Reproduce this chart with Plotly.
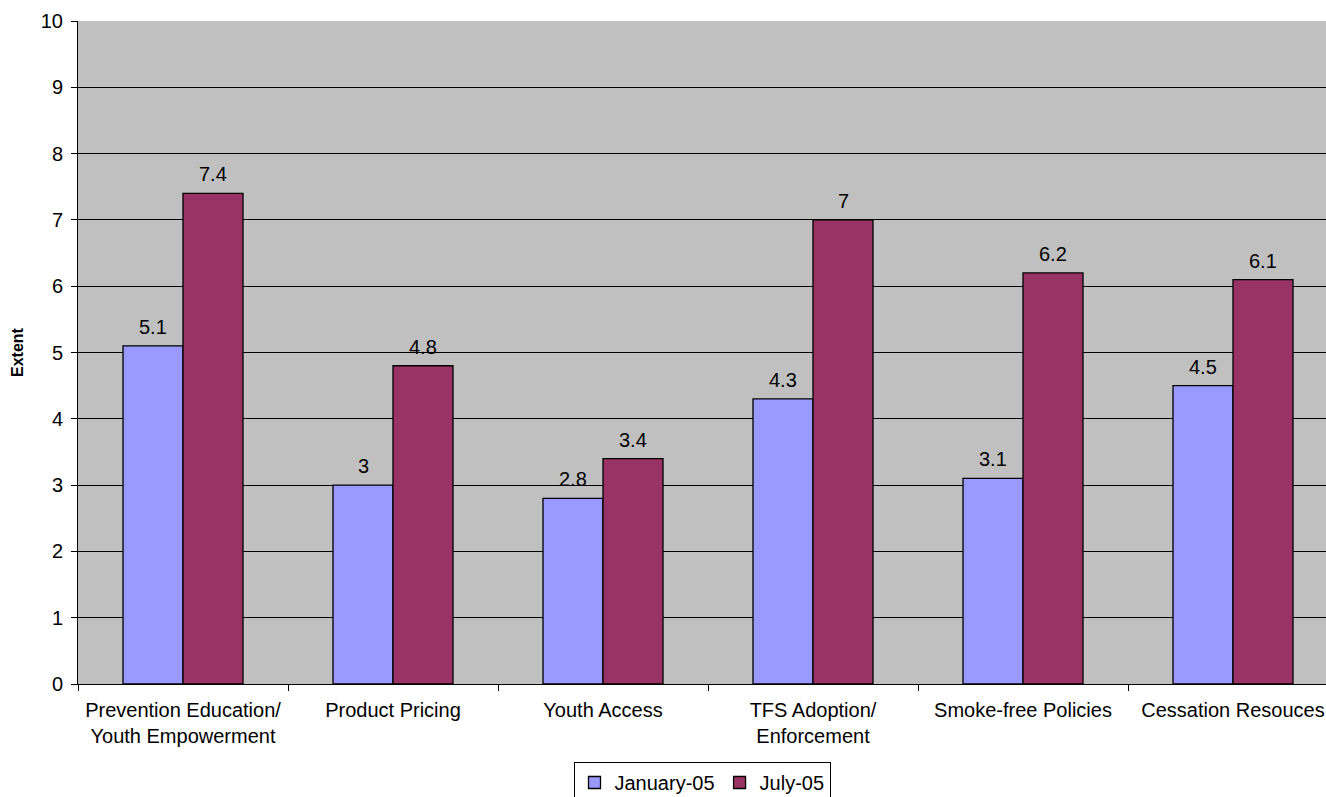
import plotly.graph_objects as go

categories = [
    "Prevention Education/<br>Youth Empowerment",
    "Product Pricing",
    "Youth Access",
    "TFS Adoption/<br>Enforcement",
    "Smoke-free Policies",
    "Cessation Resouces",
]
january_05 = [5.1, 3, 2.8, 4.3, 3.1, 4.5]
july_05 = [7.4, 4.8, 3.4, 7.0, 6.2, 6.1]
y_ticks = list(range(0, 11))

FONT = "Arial, Liberation Sans, sans-serif"
BAR_GAP = 0.4286
series = [("January-05", january_05, "#9999FF"), ("July-05", july_05, "#993366")]

fig = go.Figure()
for name, vals, color in series:
    fig.add_trace(go.Bar(
        name=name, x=categories, y=vals,
        marker=dict(color=color, line=dict(color="black", width=1.3)),
    ))

# value labels centred above each bar of the group
bar_w = (1 - BAR_GAP) / len(series)
for s, (name, vals, color) in enumerate(series):
    offset = (s - (len(series) - 1) / 2) * bar_w
    for i, v in enumerate(vals):
        fig.add_annotation(
            x=i + offset, y=v, xref="x", yref="y",
            text=f"{v:g}", showarrow=False, yanchor="bottom", yshift=6,
            font=dict(family=FONT, size=20, color="black"),
        )

n = len(categories)
fig.update_layout(
    width=1326, height=797,
    margin=dict(l=78, r=0, t=21, b=113),
    paper_bgcolor="white", plot_bgcolor="#C0C0C0",
    barmode="group", bargap=BAR_GAP, bargroupgap=0,
    font=dict(family=FONT, size=20, color="black"),
    showlegend=True,
    legend=dict(
        orientation="h", x=0.5, xanchor="center",
        yref="container", y=(797 - 762) / 797, yanchor="top",
        bordercolor="black", borderwidth=1, bgcolor="white",
        font=dict(family=FONT, size=20), itemwidth=30, tracegroupgap=0,
    ),
    xaxis=dict(
        type="category", range=[-0.5, n - 0.5 - 12 / 210], automargin=False,
        tickson="boundaries", ticks="outside", ticklen=6, tickcolor="black",
        ticklabelstandoff=8,
        showline=True, linecolor="black", linewidth=1,
        showgrid=False, tickfont=dict(size=20),
    ),
    yaxis=dict(
        range=[0, 10], tickvals=y_ticks, ticks="outside", ticklen=6,
        tickcolor="black", showline=True, linecolor="black", linewidth=1,
        showgrid=True, gridcolor="black", gridwidth=1, zeroline=False,
        automargin=False, ticklabelstandoff=4,
        tickfont=dict(size=20),
        title=dict(text="<b>Extent</b>", font=dict(size=16), standoff=13),
    ),
)

fig.write_html("out.html")
